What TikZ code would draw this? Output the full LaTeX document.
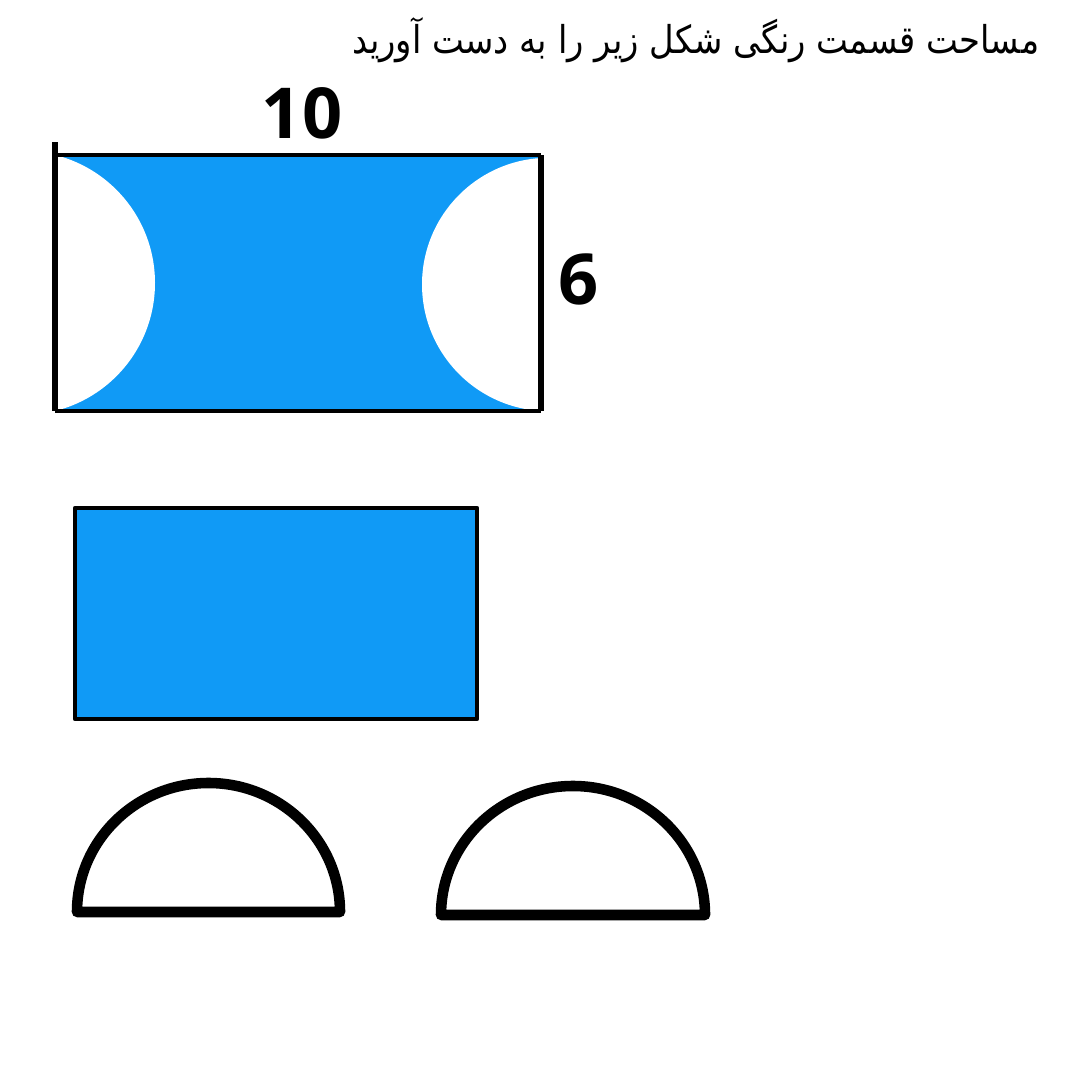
\documentclass[tikz,border=0pt]{standalone}
\usepackage{graphicx}
\usepackage{fontspec}
\newfontfamily\arabicfont[Script=Arabic]{DejaVu Sans}
\newfontfamily\numfont{Open Sans}
\TeXXeTstate=1
\definecolor{shadeblue}{RGB}{16,154,246}

\begin{document}
\begin{tikzpicture}[line join=round,
  label node/.style={inner sep=0pt,font=\numfont\fontsize{20}{24}\selectfont\bfseries},
  frame line/.style={line width=1.2pt,draw=black},
  half line/.style={line width=3pt,draw=black,line cap=round}]

  \useasboundingbox (0,0) rectangle (10.8,10.8);

  % question
  \node[anchor=east,inner sep=0pt] (title) at (10.40,10.40)
    {\resizebox{6.87cm}{0.36cm}{\arabicfont\beginR مساحت قسمت رنگی شکل زیر را به دست آورید\endR}};

  % main figure
  \fill[shadeblue] (0.55,6.69) rectangle (5.41,9.25);
  \begin{scope}
    \clip (0.55,6.69) rectangle (5.41,9.25);
    \fill[white] (0.231,7.97) circle[radius=1.319];
    \fill[white] (5.487,7.955) circle[radius=1.267];
  \end{scope}
  \draw[frame line] (0.55,9.25) -- (5.41,9.25);
  \draw[frame line] (0.55,6.69) -- (5.41,6.69);
  \draw[line width=1.5pt] (0.55,6.69) -- (0.55,9.38);
  \draw[line width=1.5pt] (5.41,6.69) -- (5.41,9.25);
  \node[label node] (len) at (3.02,9.67) {10};
  \node[label node] (wid) at (5.79,8.01) {6};

  % rectangle part
  \draw[frame line,fill=shadeblue] (0.75,3.61) rectangle (4.77,5.72);

  % two half circles
  \draw[half line] (0.77,1.68) arc[start angle=180,end angle=0,x radius=1.315,y radius=1.29] -- cycle;
  \draw[half line] (4.41,1.65) arc[start angle=180,end angle=0,x radius=1.32,y radius=1.29] -- cycle;
\end{tikzpicture}
\end{document}
